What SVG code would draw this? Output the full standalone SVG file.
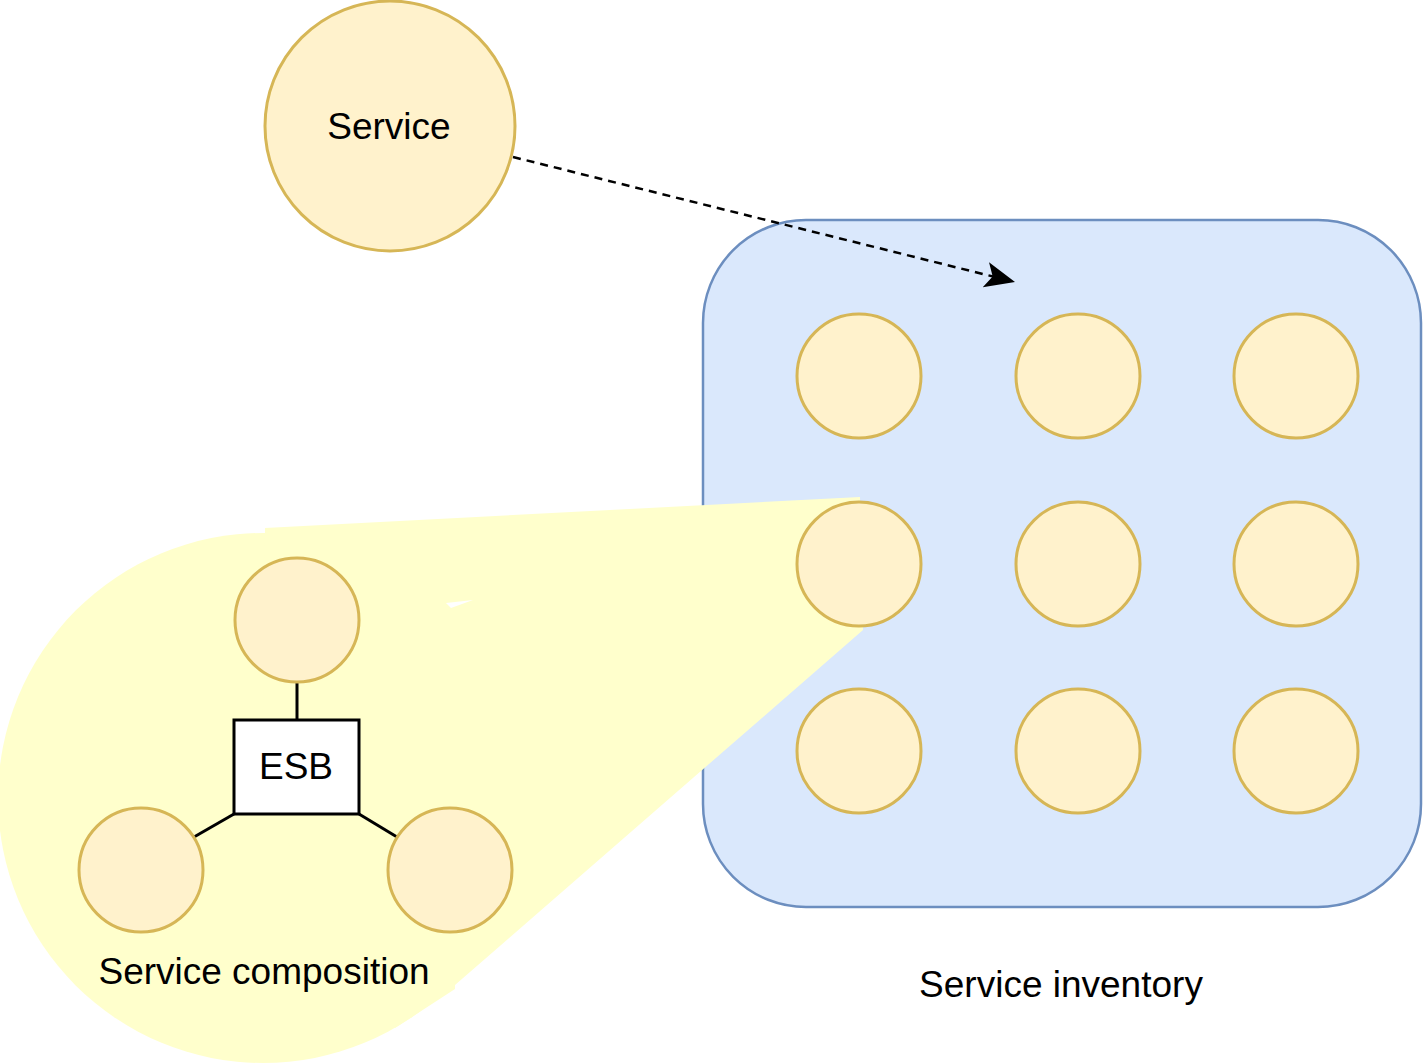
<svg xmlns="http://www.w3.org/2000/svg" width="1423" height="1064" viewBox="0 0 1423 1064">
<style>
.svc{fill:#fff2cc;stroke:#d6b656;stroke-width:3}
.lbl{font-family:"Liberation Sans",Arial,sans-serif;font-size:37px;fill:#000;text-anchor:middle}
.ln{stroke:#000;stroke-width:3;fill:none}
</style>
<defs>
<marker id="arr" markerUnits="userSpaceOnUse" markerWidth="34" markerHeight="30" viewBox="0 -15 34 30" refX="30" refY="0" orient="auto">
<path d="M0,-13 L30,0 L0,13 L7,0 Z" fill="#000"/>
</marker>
</defs>
<rect width="1423" height="1064" fill="#fff"/>
<g id="inventory">
<rect x="703" y="220" width="718" height="687" rx="103" ry="103" fill="#dae8fc" stroke="#6c8ebf" stroke-width="2.5"/>
<text class="lbl" x="1061" y="997">Service inventory</text>
</g>
<g id="composition">
<circle cx="263" cy="798" r="265" fill="#ffffcc"/>
<polygon points="265,528 860,497 863,630 455,985 455,989 395,1028 262,798" fill="#ffffcc"/>
<polygon points="446,603 473,600 451,608" fill="#fff"/>
<text class="lbl" x="264" y="984">Service composition</text>
</g>
<g id="inv-services">
<circle class="svc" cx="859" cy="376" r="62"/>
<circle class="svc" cx="1078" cy="376" r="62"/>
<circle class="svc" cx="1296" cy="376" r="62"/>
<circle class="svc" cx="859" cy="564" r="62"/>
<circle class="svc" cx="1078" cy="564" r="62"/>
<circle class="svc" cx="1296" cy="564" r="62"/>
<circle class="svc" cx="859" cy="751" r="62"/>
<circle class="svc" cx="1078" cy="751" r="62"/>
<circle class="svc" cx="1296" cy="751" r="62"/>
</g>
<g id="service">
<circle class="svc" cx="390" cy="126" r="125"/>
<text class="lbl" x="389" y="139">Service</text>
</g>
<g id="connectors">
<line class="ln" x1="297" y1="683" x2="297" y2="720"/>
<line class="ln" x1="234" y1="814" x2="194" y2="837"/>
<line class="ln" x1="359" y1="814" x2="397" y2="837"/>
<line x1="513" y1="157" x2="1015" y2="282" stroke="#000" stroke-width="2.5" stroke-dasharray="8 6" marker-end="url(#arr)"/>
</g>
<g id="comp-services">
<circle class="svc" cx="297" cy="620" r="62"/>
<circle class="svc" cx="141" cy="870" r="62"/>
<circle class="svc" cx="450" cy="870" r="62"/>
</g>
<g id="esb">
<rect x="234" y="720" width="125" height="94" fill="#fff" stroke="#000" stroke-width="3"/>
<text class="lbl" x="296" y="779">ESB</text>
</g>
</svg>
